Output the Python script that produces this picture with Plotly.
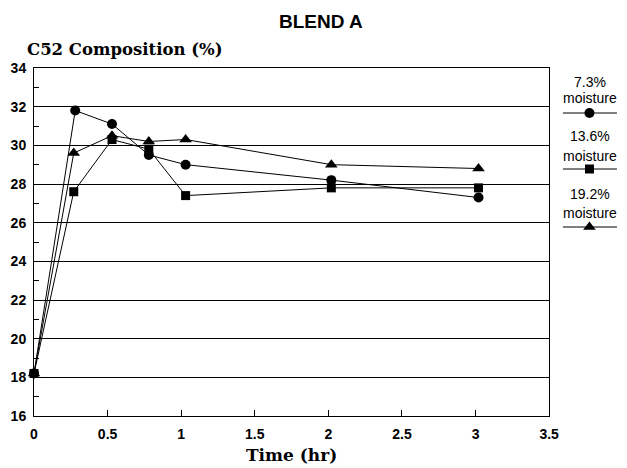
import plotly.graph_objects as go

# Data
time_73 = [0, 0.28, 0.53, 0.78, 1.03, 2.02, 3.02]
comp_73 = [18.2, 31.8, 31.1, 29.5, 29.0, 28.2, 27.3]

time_136 = [0, 0.27, 0.53, 0.78, 1.03, 2.02, 3.02]
comp_136 = [18.2, 27.6, 30.3, 29.8, 27.4, 27.8, 27.8]

time_192 = [0, 0.27, 0.53, 0.78, 1.03, 2.02, 3.02]
comp_192 = [18.2, 29.6, 30.5, 30.2, 30.3, 29.0, 28.8]

series_names = ["7.3%", "13.6%", "19.2%"]
symbols = ["circle", "square", "triangle-up"]
marker_sizes = [10, 9, 11]

x_ticks = [0, 0.5, 1, 1.5, 2, 2.5, 3, 3.5]
x_tick_labels = ["0", "0.5", "1", "1.5", "2", "2.5", "3", "3.5"]
y_ticks = [16, 18, 20, 22, 24, 26, 28, 30, 32, 34]

W, H = 627, 468
L, R, T, B = 34, 0, 68, 52
plot_w = W - L - R
plot_h = H - T - B
main_right_px = 558
legend_left_px = 566

fig = go.Figure()

data = [(time_73, comp_73), (time_136, comp_136), (time_192, comp_192)]
for (xs, ys), name, sym, ms in zip(data, series_names, symbols, marker_sizes):
    fig.add_trace(go.Scatter(
        x=xs, y=ys, mode="lines+markers", name=name,
        line=dict(color="black", width=1),
        marker=dict(symbol=sym, size=ms, color="black"),
        showlegend=False, cliponaxis=False,
    ))

# Custom legend keys (text above, line with marker below)
key_y = [113, 169, 227]
text_y1 = [82, 136, 194]
text_y2 = [98, 156, 213]
for name, sym, ms, ky, t1, t2 in zip(series_names, symbols, marker_sizes, key_y, text_y1, text_y2):
    fig.add_trace(go.Scatter(
        x=[572, 599, 627], y=[ky, ky, ky], mode="lines",
        line=dict(color="black", width=1), xaxis="x2", yaxis="y2",
        showlegend=False, hoverinfo="skip",
    ))
    fig.add_trace(go.Scatter(
        x=[599], y=[ky], mode="markers",
        marker=dict(symbol=sym, size=ms, color="black"), xaxis="x2", yaxis="y2",
        showlegend=False, hoverinfo="skip",
    ))
    for txt, ty in ((name, t1), ("moisture", t2)):
        fig.add_annotation(x=600, y=ty, xref="x2", yref="y2", text=txt,
                           showarrow=False, xanchor="center", yanchor="middle",
                           font=dict(family="Liberation Sans, Arial", size=14, color="black"))

tickfont = dict(family="Liberation Sans, Arial", size=14, color="black", weight="bold")

fig.update_layout(
    width=W, height=H,
    margin=dict(l=L, r=R, t=T, b=B),
    paper_bgcolor="white", plot_bgcolor="white",
    xaxis=dict(
        domain=[0, (main_right_px - L) / plot_w],
        range=[0, 3.5], tickvals=x_ticks, ticktext=x_tick_labels,
        ticks="inside", ticklen=6, tickcolor="black",
        ticklabelstandoff=5,
        showline=True, linecolor="black", linewidth=1, mirror=True,
        showgrid=False, zeroline=False,
        tickfont=tickfont,
        title=dict(text="<b>Time (hr)</b>", standoff=8,
                   font=dict(family="DejaVu Serif", size=17, color="black")),
    ),
    yaxis=dict(
        range=[16, 34], tickvals=y_ticks,
        ticks="inside", ticklen=5, tickcolor="black",
        ticklabelstandoff=4,
        minor=dict(dtick=1, ticks="inside", ticklen=5, tickcolor="black", showgrid=False),
        showline=True, linecolor="black", linewidth=1, mirror=True,
        showgrid=True, gridcolor="black", gridwidth=1, zeroline=False,
        tickfont=tickfont,
    ),
    xaxis2=dict(domain=[(legend_left_px - L) / plot_w, 1], range=[legend_left_px, W],
                visible=False, fixedrange=True),
    yaxis2=dict(domain=[0, 1], range=[H - B, T], anchor="x2",
                visible=False, fixedrange=True),
    showlegend=False,
)

fig.add_annotation(x=(326 - L) / plot_w, y=1 + (T - 21) / plot_h, xref="paper", yref="paper",
                   text="<b>BLEND A</b>", showarrow=False, xanchor="center", yanchor="middle",
                   font=dict(family="Liberation Sans, Arial", size=19, color="black"))
fig.add_annotation(x=(25 - L) / plot_w, y=1 + (T - 49) / plot_h, xref="paper", yref="paper",
                   text="<b>C52 Composition (%)</b>", showarrow=False,
                   xanchor="left", yanchor="middle",
                   font=dict(family="DejaVu Serif", size=16.5, color="black"))

fig.write_html("out.html")
